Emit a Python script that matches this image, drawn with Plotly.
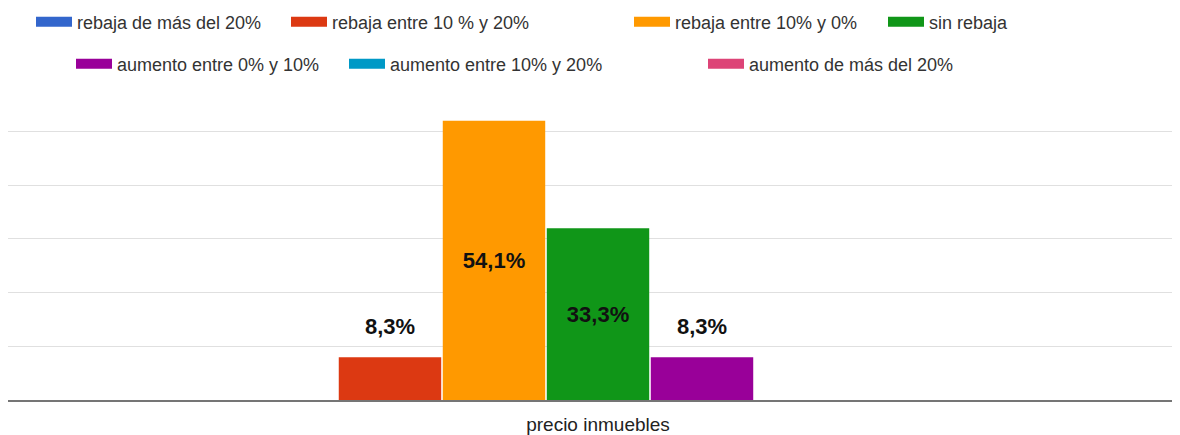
import plotly.graph_objects as go

# Survey answers: expected change in property prices
CATEGORY = ["precio inmuebles"]
SERIES = [
    "rebaja de más del 20%",
    "rebaja entre 10 % y 20%",
    "rebaja entre 10% y 0%",
    "sin rebaja",
    "aumento entre 0% y 10%",
    "aumento entre 10% y 20%",
    "aumento de más del 20%",
]
VALUES = [0, 8.3, 54.1, 33.3, 8.3, 0, 0]
COLORS = ["#3366cc", "#dc3912", "#ff9900", "#109618", "#990099", "#0099c6", "#dd4477"]

FONT = "Liberation Sans, Arial, sans-serif"
W, H = 1180, 427          # page body has an 8px margin
BARGAP = 0.383

# where each legend entry sits (px from figure left / top), two rows like the original
LEGEND_POS = [(23, 14), (278, 14), (621, 14), (875, 14), (63, 56), (336, 56), (695, 56)]


def fmt(v):
    return f"{v:.1f}".replace(".", ",") + "%"


fig = go.Figure()

group_w = 1 - BARGAP
bar_w = group_w / len(SERIES)

for i, name in enumerate(SERIES):
    v = VALUES[i]
    big = v >= 20
    fig.add_trace(go.Bar(
        x=CATEGORY,
        y=[v],
        name=name,
        marker=dict(color=COLORS[i], line=dict(width=0)),
        text=[fmt(v) if big else ""],
        textposition="inside",
        insidetextanchor="middle",
        textfont=dict(family=FONT, size=22, color="#111111", weight="bold"),
        showlegend=False,
    ))
    # small bars get their label floating above, as in the original
    if v and not big:
        fig.add_annotation(
            x=-group_w / 2 + (i + 0.5) * bar_w, y=v,
            xref="x", yref="y",
            text=fmt(v),
            showarrow=False,
            yanchor="bottom",
            yshift=16,
            font=dict(family=FONT, size=22, color="#111111", weight="bold"),
        )

    # legend swatch (wide rectangle)
    key = "legend" if i == 0 else f"legend{i + 1}"
    fig.add_trace(go.Scatter(
        x=[None], y=[None],
        mode="lines",
        name=name,
        line=dict(color=COLORS[i], width=18),
        legend=key,
        hoverinfo="skip",
    ))
    lx, ly = LEGEND_POS[i]
    fig.update_layout({key: dict(
        orientation="h",
        xref="container", yref="container",
        x=lx / W, y=1 - ly / H,
        xanchor="left", yanchor="middle",
        itemwidth=36,
        font=dict(family=FONT, size=18, color="#333333"),
        bgcolor="rgba(0,0,0,0)",
        itemclick=False,
    )})

fig.update_layout(
    width=W,
    height=H,
    margin=dict(l=0, r=0, t=103, b=35),
    paper_bgcolor="white",
    plot_bgcolor="white",
    barmode="group",
    bargap=BARGAP,
    bargroupgap=0.015,
    font=dict(family=FONT, color="#222222"),
    xaxis=dict(
        showline=True,
        linecolor="#757575",
        linewidth=2,
        showgrid=False,
        ticks="outside",
        ticklen=6,
        tickcolor="white",
        tickfont=dict(family=FONT, size=19, color="#222222"),
    ),
    yaxis=dict(
        range=[0, 56],
        tick0=0,
        dtick=10.4,
        showticklabels=False,
        gridcolor="#e0e0e0",
        gridwidth=1,
        zeroline=False,
    ),
)

fig.write_html("out.html")
